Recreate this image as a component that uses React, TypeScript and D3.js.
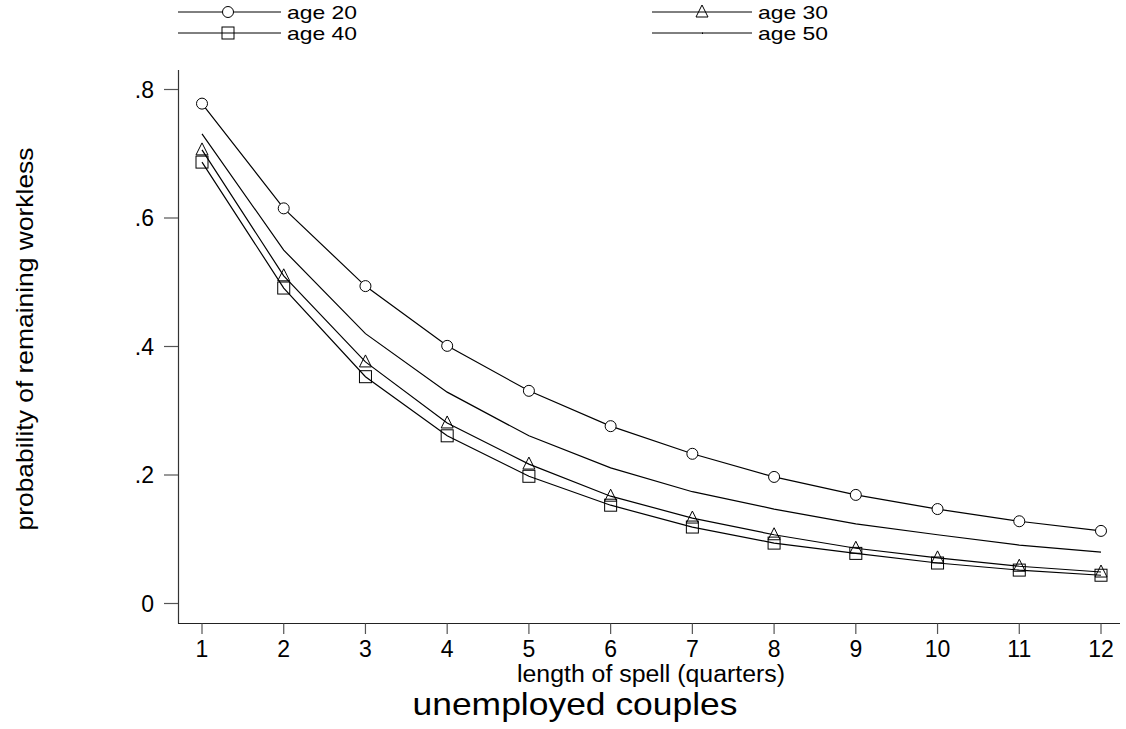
import React from "react";
import * as d3 from "d3";

const quarters = [1, 2, 3, 4, 5, 6, 7, 8, 9, 10, 11, 12];
const age20 = [0.778, 0.615, 0.494, 0.401, 0.331, 0.276, 0.233, 0.197, 0.169, 0.147, 0.128, 0.113];
const age30 = [0.706, 0.51, 0.376, 0.281, 0.217, 0.167, 0.133, 0.107, 0.086, 0.071, 0.058, 0.049];
const age40 = [0.687, 0.491, 0.353, 0.261, 0.198, 0.153, 0.119, 0.094, 0.078, 0.063, 0.052, 0.044];
const age50 = [0.731, 0.55, 0.42, 0.329, 0.261, 0.211, 0.174, 0.147, 0.124, 0.107, 0.091, 0.08];
const yTicks = [0, 0.2, 0.4, 0.6, 0.8];
const yTickLabels = ["0", ".2", ".4", ".6", ".8"];

const seriesList = [
  { name: "age 20", values: age20, marker: "circle" },
  { name: "age 30", values: age30, marker: "triangle" },
  { name: "age 40", values: age40, marker: "square" },
  { name: "age 50", values: age50, marker: "none" },
];

const FONT = "'Liberation Sans', Arial, sans-serif";

function Marker({ type, cx, cy }: { type: string; cx: number; cy: number }) {
  if (type === "circle")
    return <circle cx={cx} cy={cy} r={5.5} fill="white" stroke="#000" strokeWidth={1} />;
  if (type === "square")
    return <rect x={cx - 6} y={cy - 6} width={12} height={12} fill="none" stroke="#000" strokeWidth={1} />;
  if (type === "triangle")
    return (
      <path
        d={`M${cx},${cy - 7} L${cx + 6},${cy + 5} L${cx - 6},${cy + 5} Z`}
        fill="none"
        stroke="#000"
        strokeWidth={1}
      />
    );
  return null;
}

export default function App() {
  const x = d3.scaleLinear().domain([1, 12]).range([202, 1101]);
  const y = d3.scaleLinear().domain([0, 0.8]).range([603.5, 89.5]);
  const line = d3
    .line<number>()
    .x((_, i) => x(quarters[i]))
    .y((d) => y(d));

  const legendPos = [
    { lx: 178, ly: 12, len: 103 },
    { lx: 652, ly: 12, len: 100 },
    { lx: 178, ly: 33, len: 103 },
    { lx: 652, ly: 33, len: 100 },
  ];

  return (
    <svg
      width={1126}
      height={729}
      style={{ position: "absolute", left: 0, top: 0, background: "white" }}
      fontFamily={FONT}
    >
      <rect x={0} y={0} width={1126} height={729} fill="white" />
      {/* legend */}
      {seriesList.map((s, i) => {
        const p = legendPos[i];
        return (
          <g key={s.name}>
            <line x1={p.lx} x2={p.lx + p.len} y1={p.ly} y2={p.ly} stroke="#000" strokeWidth={1} />
            {s.marker === "none" ? (
              <rect x={p.lx + 50} y={p.ly - 0.5} width={1} height={1.5} fill="#000" />
            ) : (
              <Marker type={s.marker} cx={p.lx + 50} cy={p.ly} />
            )}
            <text
              x={p.lx + p.len + 6}
              y={p.ly + 7}
              fontSize={19}
              fill="#000"
              textLength={70}
              lengthAdjust="spacingAndGlyphs"
            >
              {s.name}
            </text>
          </g>
        );
      })}

      {/* axes */}
      <line x1={178.5} x2={178.5} y1={70} y2={623.5} stroke="#333" strokeWidth={1.2} />
      <line x1={178} x2={1120} y1={623.5} y2={623.5} stroke="#222" strokeWidth={1.2} />
      {yTicks.map((t, i) => (
        <g key={t}>
          <line x1={164} x2={178} y1={y(t)} y2={y(t)} stroke="#555" strokeWidth={1.2} />
          <text x={154} y={y(t) + 8} textAnchor="end" fontSize={23} fill="#000">
            {yTickLabels[i]}
          </text>
        </g>
      ))}
      {quarters.map((q) => (
        <g key={q}>
          <line x1={x(q)} x2={x(q)} y1={623.5} y2={634} stroke="#555" strokeWidth={1.2} />
          <text x={x(q)} y={657} textAnchor="middle" fontSize={23} fill="#000">
            {q}
          </text>
        </g>
      ))}
      <text
        x={651}
        y={682}
        textAnchor="middle"
        fontSize={23}
        fill="#000"
        textLength={268}
        lengthAdjust="spacingAndGlyphs"
      >
        length of spell (quarters)
      </text>
      <text
        x={575}
        y={715}
        textAnchor="middle"
        fontSize={32}
        fill="#000"
        textLength={325}
        lengthAdjust="spacingAndGlyphs"
      >
        unemployed couples
      </text>
      <text
        transform="translate(33,339) rotate(-90)"
        textAnchor="middle"
        fontSize={24}
        fill="#000"
        textLength={383}
        lengthAdjust="spacingAndGlyphs"
      >
        probability of remaining workless
      </text>

      {/* series */}
      {seriesList.map((s) => (
        <g key={s.name}>
          <path d={line(s.values) || ""} fill="none" stroke="#000" strokeWidth={1.2} />
          {s.values.map((v, i) => (
            <Marker key={i} type={s.marker} cx={x(quarters[i])} cy={y(v)} />
          ))}
        </g>
      ))}
    </svg>
  );
}
